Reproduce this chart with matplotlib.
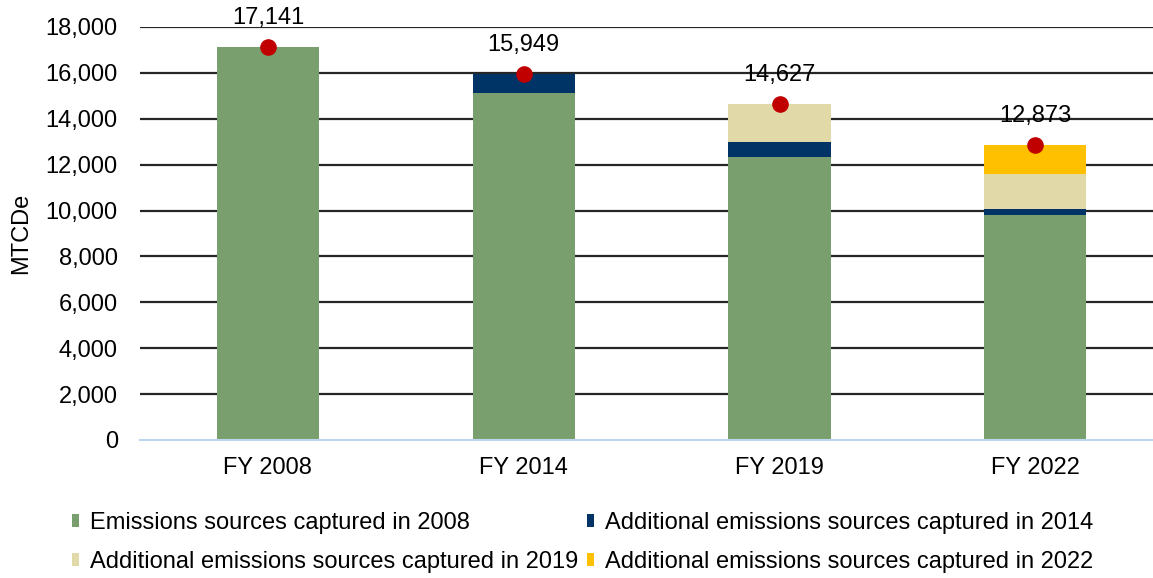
import matplotlib
matplotlib.use("Agg")
import matplotlib.pyplot as plt
import numpy as np

categories = ["FY 2008", "FY 2014", "FY 2019", "FY 2022"]
src_2008 = [17141, 15130, 12350, 9810]
add_2014 = [0, 819, 650, 260]
add_2019 = [0, 0, 1627, 1530]
add_2022 = [0, 0, 0, 1273]
totals = [17141, 15949, 14627, 12873]
series_names = ["Emissions sources captured in 2008",
                "Additional emissions sources captured in 2014",
                "Additional emissions sources captured in 2019",
                "Additional emissions sources captured in 2022"]
colors = ["#7A9F6E", "#003366", "#E2D9A9", "#FFC000"]

plt.rcParams['font.family'] = ['Liberation Sans', 'DejaVu Sans']
FS = 17

fig = plt.figure(figsize=(11.53, 5.78), dpi=100)
ax = fig.add_axes([140/1153, (578-440)/578, (1153-140)/1153, (440-27)/578])

x = np.arange(len(categories))
bottom = np.zeros(len(categories))
handles = []
for vals, c, name in zip([src_2008, add_2014, add_2019, add_2022], colors, series_names):
    b = ax.bar(x, vals, bottom=bottom, width=0.4, color=c, label=name, zorder=3)
    handles.append(b)
    bottom += np.array(vals)

ax.scatter(x, totals, s=120, color="#C00000", zorder=5)
for xi, t in zip(x, totals):
    ax.annotate(f"{t:,}", (xi, t), xytext=(0, 13), textcoords="offset points",
                ha="center", va="bottom", fontsize=FS, color="#000000")

ax.set_ylim(0, 18000)
ax.set_xlim(-0.5, 3.46)
ax.set_yticks(np.arange(0, 18001, 2000))
ax.set_yticklabels([f"{v:,}" for v in range(0, 18001, 2000)])
ax.yaxis.grid(True, color="#262626", linewidth=1.6, zorder=0)
ax.set_axisbelow(True)
for s in ["top", "right", "left"]:
    ax.spines[s].set_visible(False)
ax.spines["bottom"].set_color("#BDD7EE")
ax.spines["bottom"].set_linewidth(1.5)
ax.spines["bottom"].set_zorder(4)
ax.tick_params(axis="y", length=0, labelsize=FS, pad=16)
ax.tick_params(axis="x", length=0, labelsize=FS, pad=12)
ax.set_xticks(x)
ax.set_xticklabels(categories)
ax.set_ylabel("MTCDe", fontsize=FS)
ax.yaxis.set_label_coords(-0.106, 0.5)

ax.get_ygridlines()[0].set_visible(False)

order = [0, 2, 1, 3]
fig.legend(handles=[handles[i] for i in order], labels=[series_names[i] for i in order],
           loc="upper left", bbox_to_anchor=(72/1153, 1 - 512/578), ncol=2, frameon=False,
           fontsize=FS, handlelength=0.3, handleheight=0.45, handletextpad=0.45,
           columnspacing=0.4, labelspacing=0.73, borderpad=0, borderaxespad=0)

fig.savefig("out.png", dpi=100)
